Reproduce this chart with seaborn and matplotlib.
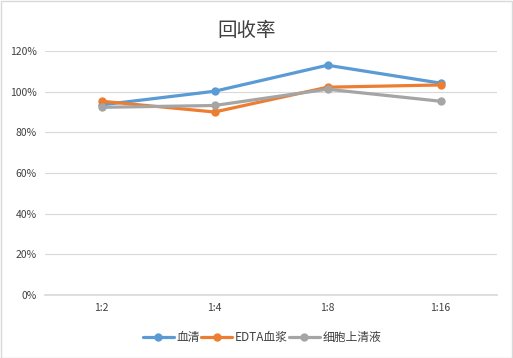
import matplotlib
matplotlib.use("Agg")
import matplotlib.pyplot as plt
import seaborn as sns
import pandas as pd
from matplotlib.ticker import PercentFormatter

categories = ["1:2", "1:4", "1:8", "1:16"]
serum = [93.5, 100.2, 113.0, 104.2]
edta = [95.3, 90.0, 102.2, 103.3]
cell = [92.3, 93.2, 101.2, 95.3]
series_names = ["血清", "EDTA血浆", "细胞上清液"]
colors = ["#5B9BD5", "#ED7D31", "#A5A5A5"]

rows = []
for name, vals in zip(series_names, [serum, edta, cell]):
    for i, (c, v) in enumerate(zip(categories, vals)):
        rows.append({"cat": c, "x": i, "val": v, "series": name})
df = pd.DataFrame(rows)

sns.set_theme(style="white")
plt.rcParams["font.family"] = ["Noto Sans CJK SC", "DejaVu Sans"]

fig = plt.figure(figsize=(5.13, 3.58), dpi=100)
ax = fig.add_axes([45/513, 63/358, 452/513, 244/358])

sns.lineplot(data=df, x="x", y="val", hue="series", hue_order=series_names,
             palette=colors, marker="o", markersize=6, markeredgewidth=0,
             linewidth=2.3, ax=ax, legend=True)

ax.set_xlim(-0.5, 3.5)
ax.set_ylim(0, 120)
ax.set_yticks(range(0, 121, 20))
ax.yaxis.set_major_formatter(PercentFormatter(decimals=0))
ax.set_xticks(range(len(categories)))
ax.set_xticklabels(categories)
ax.grid(axis="y", color="#D9D9D9", linewidth=0.8)
ax.set_axisbelow(True)
for s in ["top", "right", "left"]:
    ax.spines[s].set_visible(False)
ax.spines["bottom"].set_color("#D9D9D9")
ax.tick_params(axis="both", length=0, labelsize=7.5, colors="#404040", pad=6)
ax.set_xlabel("")
ax.set_ylabel("")

h, l = ax.get_legend_handles_labels()
ax.legend(h, l, loc="center", bbox_to_anchor=(0.48, -0.175), ncol=3, frameon=False,
          fontsize=8.5, handlelength=2.6, handletextpad=0.2, columnspacing=0.15,
          labelcolor="#404040")

fig.text(247/513, 1 - 30/358, "回收率", ha="center", va="center", fontsize=14,
         color="#404040", fontweight="light")

border = plt.Rectangle((0.001, 0.001), 0.997, 0.997, transform=fig.transFigure,
                       fill=False, edgecolor="#D9D9D9", linewidth=1)
fig.patches.append(border)

fig.savefig("out.png", dpi=100)
